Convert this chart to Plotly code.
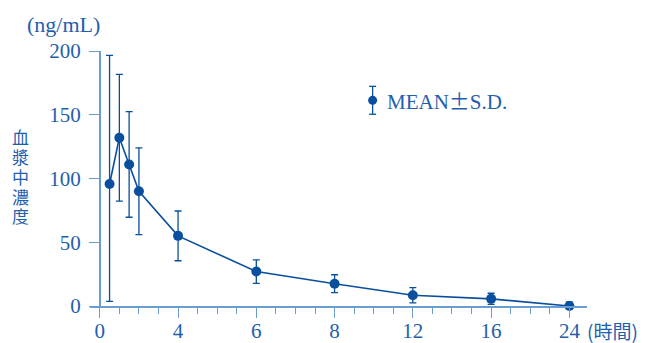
import numpy as np
import plotly.graph_objects as go

# ---- data ----
hours = [0.5, 1, 1.5, 2, 4, 6, 8, 12, 16, 24]
mean_conc = [95.7, 132, 111, 90, 55, 27, 17.5, 8.4, 5.6, 0]
sd_plus = [100.8, 49.7, 41.4, 34, 19.5, 9.2, 7, 6, 4.4, 3.3]
sd_minus = [92, 49.7, 41.4, 34, 19.5, 9.2, 7, 6, 4.4, 3.3]

tick_hours = [0, 4, 6, 8, 12, 16, 24]
y_ticks = [0, 50, 100, 150, 200]
y_title_chars = ["血", "漿", "中", "濃", "度"]

# piecewise time scale (axis units)
tick_units = [0, 4, 8, 12, 16, 20, 24]
x_units = np.interp(hours, tick_hours, tick_units)

DATA = "#0a4f9e"
AXIS = "#6a9bd3"
TEXT = "#1f60ad"
SERIF = "Liberation Serif, Times New Roman, serif"
CJK = "Noto Sans CJK JP"

x_range = [-0.5, 24.9]
y_range = [0, 200]

fig = go.Figure()
fig.add_trace(go.Scatter(
    x=x_units, y=mean_conc, mode="lines+markers",
    line=dict(color=DATA, width=1.6),
    marker=dict(color=DATA, size=10),
    error_y=dict(type="data", symmetric=False, array=sd_plus, arrayminus=sd_minus,
                 color=DATA, thickness=1.3, width=3.5),
    cliponaxis=False, showlegend=False, hoverinfo="skip",
))

W, H = 646, 343
ml, mr, mt, mb = 90.2, 58.5, 50.5, 36.5
pw = W - ml - mr
ph = H - mt - mb

def px2paper(px, py):
    return (px - ml) / pw, (H - mb - py) / ph

fig.update_layout(
    width=W, height=H,
    margin=dict(l=ml, r=mr, t=mt, b=mb, pad=0, autoexpand=False),
    plot_bgcolor="white", paper_bgcolor="white",
    xaxis=dict(
        range=x_range, showgrid=False, zeroline=False, automargin=False,
        showline=True, linecolor=AXIS, linewidth=1.5,
        tickmode="array", tickvals=tick_units, ticktext=[str(h) for h in tick_hours],
        ticks="outside", ticklen=10, tickwidth=1.3, tickcolor=AXIS,
        tickfont=dict(family=SERIF, size=21, color=TEXT),
        ticklabelstandoff=-5,
        minor=dict(tickmode="linear", tick0=0, dtick=1, ticks="outside",
                   ticklen=6, tickwidth=1.2, tickcolor=AXIS, showgrid=False),
    ),
    yaxis=dict(
        range=y_range, showgrid=False, zeroline=False, automargin=False,
        anchor="free", position=(0 - x_range[0]) / (x_range[1] - x_range[0]),
        showline=True, linecolor=AXIS, linewidth=1.5,
        tickmode="array", tickvals=y_ticks,
        ticks="outside", ticklen=10, tickwidth=1.3, tickcolor=AXIS,
        tickfont=dict(family=SERIF, size=21, color=TEXT),
        ticklabelstandoff=4,
    ),
)

# legend key (marker with error bar)
lx, ly = 373, 100
shapes = []
cx, cy = px2paper(lx, ly)
x0, y0 = px2paper(lx - 4.5, ly + 4.5)
x1, y1 = px2paper(lx + 4.5, ly - 4.5)
shapes.append(dict(type="circle", xref="paper", yref="paper", x0=x0, y0=y0, x1=x1, y1=y1,
                   fillcolor=DATA, line=dict(color=DATA, width=0)))
_, yt = px2paper(lx, 86)
_, yb = px2paper(lx, 114)
shapes.append(dict(type="line", xref="paper", yref="paper", x0=cx, x1=cx, y0=yb, y1=yt,
                   line=dict(color=DATA, width=1.3)))
for yy in (yt, yb):
    a, _ = px2paper(lx - 3.5, 0)
    b, _ = px2paper(lx + 3.5, 0)
    shapes.append(dict(type="line", xref="paper", yref="paper", x0=a, x1=b, y0=yy, y1=yy,
                       line=dict(color=DATA, width=1.3)))
fig.update_layout(shapes=shapes)

def ann(px, py, text, xanchor, font, size):
    xp, yp = px2paper(px, py)
    fig.add_annotation(x=xp, y=yp, xref="paper", yref="paper", text=text, showarrow=False,
                       xanchor=xanchor, yanchor="middle",
                       font=dict(family=font, size=size, color=TEXT))

ann(385, 100, "MEAN<span style='font-family:Noto Sans CJK JP'>±</span>S.D.", "left", SERIF, 21)
ann(25, 24, "(ng/mL)", "left", SERIF, 22)
ann(585, 331, "(時間)", "left", CJK, 19)
for i, ch in enumerate(y_title_chars):
    ann(21, 136.5 + i * 19.9, ch, "center", CJK, 17)

fig.write_html("out.html", config={"displayModeBar": False},
               post_script="document.body.style.margin='0';document.body.style.overflow='hidden';")
